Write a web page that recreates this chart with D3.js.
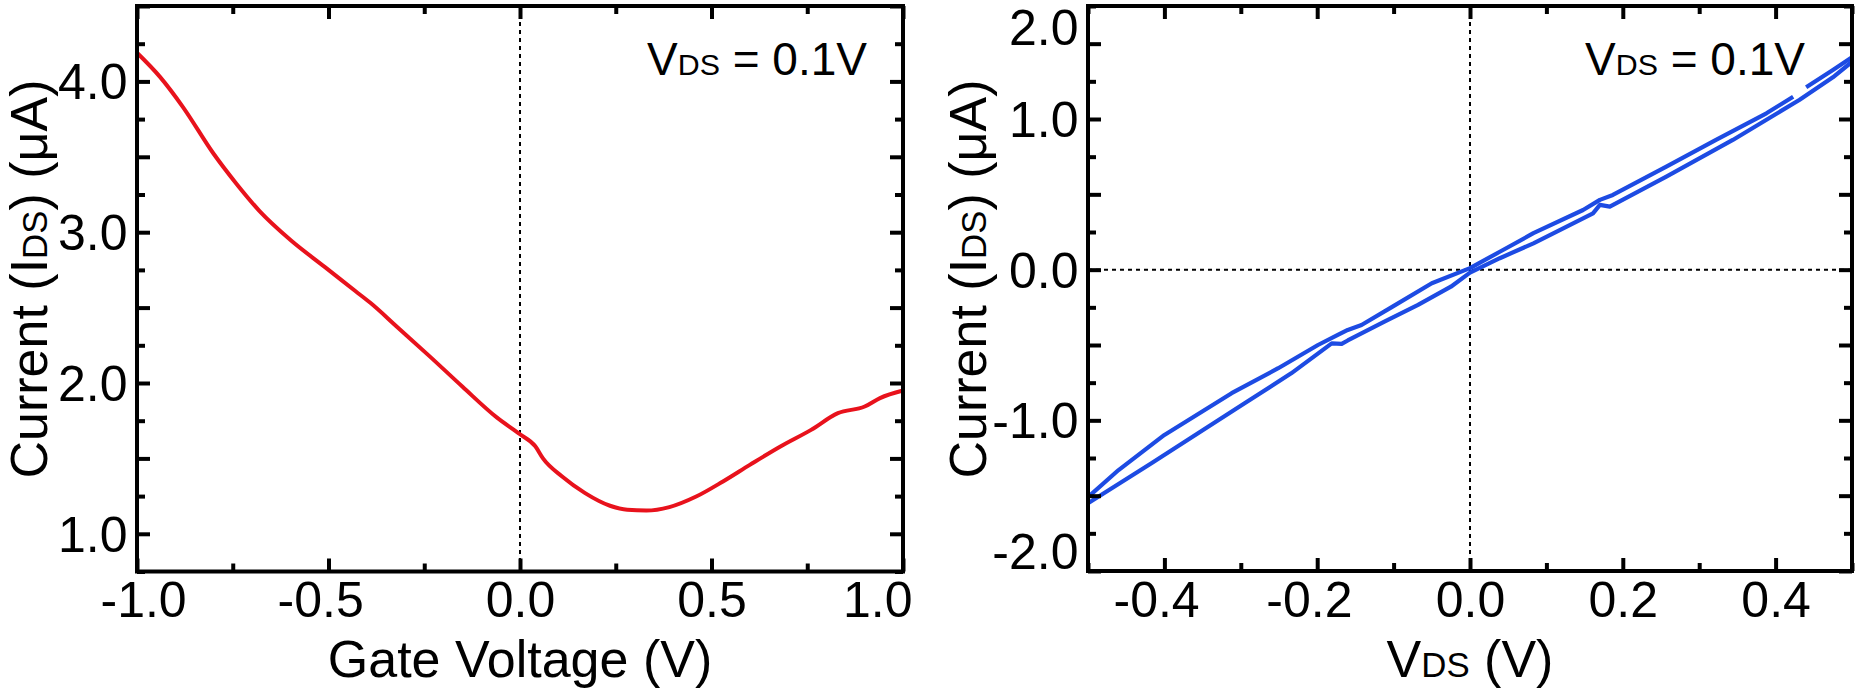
<!DOCTYPE html>
<html><head><meta charset="utf-8">
<script src="https://cdn.jsdelivr.net/npm/d3@7"></script>
<style>
body{margin:0;background:#fff}
svg{display:block}
text{font-family:"Liberation Sans",Arial,Helvetica,sans-serif;fill:#000}
</style>
</head><body><svg id="chart" width="1856" height="689"></svg>
<script>
// ---- data ----
const gateVoltage = [-1.0,-0.94,-0.88,-0.80,-0.74,-0.68,-0.60,-0.51,-0.43,-0.39,-0.32,-0.235,-0.15,-0.06,0.0,0.04,0.06,0.11,0.17,0.235,0.28,0.33,0.39,0.46,0.53,0.60,0.68,0.76,0.83,0.90,0.94,1.0];
const gateCurrent = [4.19,4.03,3.83,3.52,3.32,3.14,2.95,2.77,2.61,2.53,2.37,2.175,1.975,1.77,1.66,1.58,1.50,1.38,1.27,1.186,1.159,1.154,1.177,1.247,1.347,1.457,1.579,1.689,1.80,1.844,1.90,1.95];

const vdsUpper = [-0.50,-0.46,-0.40,-0.312,-0.251,-0.199,-0.173,-0.160,-0.142,-0.103,-0.050,0.0,0.039,0.083,0.148,0.170,0.187,0.257,0.322,0.388,0.423,null,0.440,0.475,0.50];
const idsUpper = [-1.51,-1.33,-1.097,-0.82,-0.654,-0.50,-0.433,-0.40,-0.367,-0.25,-0.09,0.01,0.119,0.242,0.396,0.463,0.496,0.684,0.861,1.038,1.148,null,1.211,1.325,1.41];
const vdsLower = [-0.50,-0.417,-0.356,-0.295,-0.234,-0.181,-0.168,-0.160,-0.112,-0.068,-0.025,0.0,0.039,0.083,0.161,0.170,0.183,0.257,0.344,0.431,0.475,0.50];
const idsLower = [-1.55,-1.285,-1.086,-0.887,-0.688,-0.489,-0.493,-0.47,-0.345,-0.234,-0.113,-0.02,0.076,0.175,0.374,0.43,0.418,0.617,0.861,1.126,1.277,1.38];

const leftXLabels = [-1.0,-0.5,0.0,0.5,1.0];
const leftYLabels = [1.0,2.0,3.0,4.0];
const rightXLabels = [-0.4,-0.2,0.0,0.2,0.4];
const rightYLabels = [-2.0,-1.0,0.0,1.0,2.0];

const fmt = d => (Math.abs(d) < 1e-9 ? 0 : d).toFixed(1);
const svg = d3.select("#chart");

function panel(cfg){
  const x = d3.scaleLinear().domain(cfg.xDomain).range([cfg.x0, cfg.x1]);
  const y = d3.scaleLinear().domain(cfg.yDomain).range([cfg.y1, cfg.y0]);
  const g = svg.append("g");

  // zero reference lines (dotted)
  cfg.zeroLines.forEach(k => {
    if(k === "v"){
      g.append("line").attr("x1", x(0)).attr("x2", x(0)).attr("y1", cfg.y0).attr("y2", cfg.y1)
        .attr("stroke","#000").attr("stroke-width",2).attr("stroke-dasharray","4,4");
    } else {
      g.append("line").attr("y1", y(0)).attr("y2", y(0)).attr("x1", cfg.x0).attr("x2", cfg.x1)
        .attr("stroke","#000").attr("stroke-width",2).attr("stroke-dasharray","4,4");
    }
  });

  // curves
  cfg.series.forEach(s => {
    const pts = s.xs.map((v,i) => [v, s.ys[i]]);
    const line = d3.line().defined(d => d[0] !== null && d[1] !== null)
      .x(d => x(d[0])).y(d => y(d[1])).curve(s.curve);
    g.append("path").datum(pts).attr("d", line).attr("fill","none")
      .attr("stroke", s.color).attr("stroke-width", s.width).attr("stroke-linejoin","round");
  });

  // ticks on all four sides, pointing inward
  const tickSets = [
    {axis: d3.axisBottom, sc: x, tr: `translate(0,${cfg.y1})`, vals: cfg.xMajor, size: 13},
    {axis: d3.axisBottom, sc: x, tr: `translate(0,${cfg.y1})`, vals: cfg.xMinor, size: 8},
    {axis: d3.axisTop, sc: x, tr: `translate(0,${cfg.y0})`, vals: cfg.xMajor, size: 13},
    {axis: d3.axisTop, sc: x, tr: `translate(0,${cfg.y0})`, vals: cfg.xMinor, size: 8},
    {axis: d3.axisLeft, sc: y, tr: `translate(${cfg.x0},0)`, vals: cfg.yMajor, size: 13},
    {axis: d3.axisLeft, sc: y, tr: `translate(${cfg.x0},0)`, vals: cfg.yMinor, size: 8},
    {axis: d3.axisRight, sc: y, tr: `translate(${cfg.x1},0)`, vals: cfg.yMajor, size: 13},
    {axis: d3.axisRight, sc: y, tr: `translate(${cfg.x1},0)`, vals: cfg.yMinor, size: 8},
  ];
  tickSets.forEach(t => {
    const a = g.append("g").attr("transform", t.tr)
      .call(t.axis(t.sc).tickValues(t.vals).tickSize(-t.size).tickSizeOuter(0).tickFormat(""));
    a.select(".domain").remove();
    a.selectAll("line").attr("stroke","#000").attr("stroke-width",4);
  });

  // frame
  g.append("rect").attr("x", cfg.x0).attr("y", cfg.y0)
    .attr("width", cfg.x1 - cfg.x0).attr("height", cfg.y1 - cfg.y0)
    .attr("fill","none").attr("stroke","#000").attr("stroke-width",4);

  // x tick labels
  const xl = g.append("g").attr("transform", `translate(0,${cfg.y1})`)
    .call(d3.axisBottom(x).tickValues(cfg.xLabels).tickSize(0).tickPadding(0).tickFormat(fmt));
  xl.select(".domain").remove();
  xl.selectAll("text").attr("font-size", 50).attr("font-family", null)
    .attr("y", 45.5).attr("dy", 0).attr("text-anchor","start")
    .each(function(d){
      const el = d3.select(this);
      const full = this.getComputedTextLength();
      let minus = 0;
      if (fmt(d).startsWith("-")) {
        const t = el.text(); el.text("-"); minus = this.getComputedTextLength(); el.text(t);
      }
      const digits = full - minus;
      let start = x(d) - digits/2 - minus;
      start = Math.max(start, cfg.x0 - 37);
      start = Math.min(start, cfg.x1 + 9 - full);
      el.attr("x", start - x(d));
    });

  // y tick labels (kept inside the picture at the ends)
  const yl = g.append("g").attr("transform", `translate(${cfg.x0},0)`)
    .call(d3.axisLeft(y).tickValues(cfg.yLabels).tickSize(0).tickPadding(0).tickFormat(fmt));
  yl.select(".domain").remove();
  yl.selectAll(".tick").attr("transform", d => {
    const p = Math.min(Math.max(y(d), cfg.y0 + 21), cfg.y1 - 20);
    return `translate(0,${p})`;
  });
  yl.selectAll("text").attr("font-size", 50).attr("font-family", null)
    .attr("x", -9.5).attr("dy", "0.36em").attr("text-anchor","end");

  // x title
  const xt = g.append("text").attr("x", (cfg.x0 + cfg.x1)/2).attr("y", 677)
    .attr("text-anchor","middle").attr("font-size", 52);
  cfg.xTitle.forEach(p => xt.append("tspan").text(p[0]).attr("font-size", p[1] ? 52*0.67 : null));

  // y title
  const yt = g.append("text").attr("transform", `translate(${cfg.yTitleX},279) rotate(-90)`)
    .attr("text-anchor","middle").attr("font-size", 52);
  [["Current (I",0],["DS",1],[") (μA)",0]].forEach(p =>
    yt.append("tspan").text(p[0]).attr("font-size", p[1] ? 52*0.67 : null));

  // annotation
  const an = g.append("text").attr("x", cfg.x1 - cfg.annRight).attr("y", 75)
    .attr("text-anchor","end").attr("font-size", 46);
  [["V",0],["DS",1],[" = 0.1V",0]].forEach(p =>
    an.append("tspan").text(p[0]).attr("font-size", p[1] ? 46*0.66 : null));
}

panel({
  x0: 137, x1: 903, y0: 6, y1: 571.5,
  xDomain: [-1, 1], yDomain: [0.75, 4.5],
  xMajor: d3.range(-2, 3).map(k => k*0.5),
  xMinor: d3.range(-3, 4, 2).map(k => k*0.25),
  yMajor: d3.range(2, 10).map(k => k*0.5),
  yMinor: d3.range(3, 18, 2).map(k => k*0.25),
  xLabels: leftXLabels, yLabels: leftYLabels,
  zeroLines: ["v"],
  series: [{xs: gateVoltage, ys: gateCurrent, color: "#e8121c", width: 4, curve: d3.curveMonotoneX}],
  xTitle: [["Gate Voltage (V)",0]],
  yTitleX: 47, annRight: 36
});

panel({
  x0: 1088, x1: 1852, y0: 6, y1: 571,
  xDomain: [-0.5, 0.5], yDomain: [-2, 1.75],
  xMajor: d3.range(-2, 3).map(k => k*0.2),
  xMinor: d3.range(-5, 6, 2).map(k => k*0.1),
  yMajor: d3.range(-4, 4).map(k => k*0.5),
  yMinor: d3.range(-7, 8, 2).map(k => k*0.25),
  xLabels: rightXLabels, yLabels: rightYLabels,
  zeroLines: ["v","h"],
  series: [
    {xs: vdsUpper, ys: idsUpper, color: "#1d4be3", width: 4.2, curve: d3.curveLinear},
    {xs: vdsLower, ys: idsLower, color: "#1d4be3", width: 4.2, curve: d3.curveLinear}
  ],
  xTitle: [["V",0],["DS",1],[" (V)",0]],
  yTitleX: 986, annRight: 47
});
</script>
</body></html>
